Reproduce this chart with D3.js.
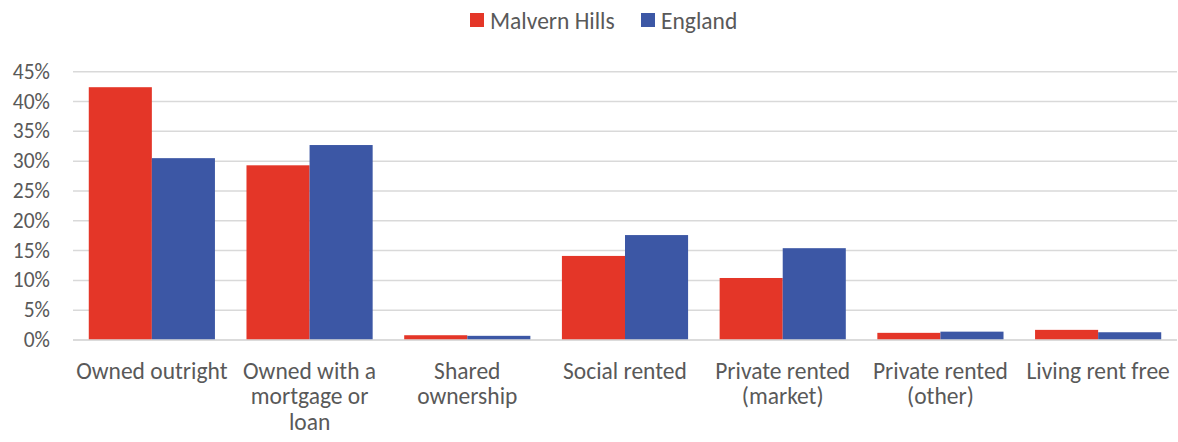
<!DOCTYPE html>
<html><head><meta charset="utf-8">
<script src="https://cdn.jsdelivr.net/npm/d3@7"></script>
<style>body{margin:0;background:#fff}svg{display:block}text{font-family:Carlito,Calibri,Lato,sans-serif;fill:#595959}</style>
</head><body><svg id="c" width="1178" height="442"></svg>
<script>
const categories = [["Owned outright"],["Owned with a","mortgage or","loan"],["Shared","ownership"],["Social rented"],["Private rented","(market)"],["Private rented","(other)"],["Living rent free"]];
const seriesNames = ["Malvern Hills","England"];
const malvern = [42.4,29.3,0.8,14.1,10.4,1.2,1.7];
const england = [30.5,32.7,0.7,17.6,15.4,1.4,1.3];
const yTicks = [0,5,10,15,20,25,30,35,40,45];
const colors = ["#E43628","#3C57A5"];

const svg = d3.select("#c");
const pL = 73, pR = 1177, pT = 71.7, pB = 340;
const x = d3.scaleBand().domain(d3.range(categories.length)).range([pL,pR]).paddingInner(0.2).paddingOuter(0.1);
const bw = x.bandwidth()/2;
const y = d3.scaleLinear().domain([0,45]).range([pB,pT]);

svg.append("g").selectAll("line").data(yTicks).join("line")
  .attr("x1",pL).attr("x2",pR).attr("y1",d=>y(d)).attr("y2",d=>y(d))
  .attr("stroke","#d9d9d9").attr("stroke-width",1.5);
svg.append("g").selectAll("text").data(yTicks).join("text")
  .attr("x",50).attr("y",d=>y(d)+7).attr("text-anchor","end").attr("font-size",21.5)
  .text(d=>d+"%");

[malvern,england].forEach((s,si)=>{
  svg.append("g").selectAll("rect").data(s).join("rect")
    .attr("x",(d,i)=>x(i)+si*bw).attr("width",bw)
    .attr("y",d=>y(d)).attr("height",d=>pB-y(d)).attr("fill",colors[si]);
});
svg.append("line").attr("x1",pL).attr("x2",pR).attr("y1",pB).attr("y2",pB).attr("stroke","#d9d9d9").attr("stroke-width",1.5);

const xl = svg.append("g").selectAll("text").data(categories).join("text")
  .attr("text-anchor","middle").attr("font-size",23.5);
xl.each(function(lines,i){
  d3.select(this).selectAll("tspan").data(lines).join("tspan")
    .attr("x",x(i)+x.bandwidth()/2).attr("y",(d,j)=>378.5+j*25.8).text(d=>d);
});

const legX = [470,641];
seriesNames.forEach((n,i)=>{
  svg.append("rect").attr("x",legX[i]).attr("y",13).attr("width",14).attr("height",14).attr("fill",colors[i]);
  svg.append("text").attr("x",legX[i]+20).attr("y",28.5).attr("font-size",23.5).text(n);
});
</script></body></html>
